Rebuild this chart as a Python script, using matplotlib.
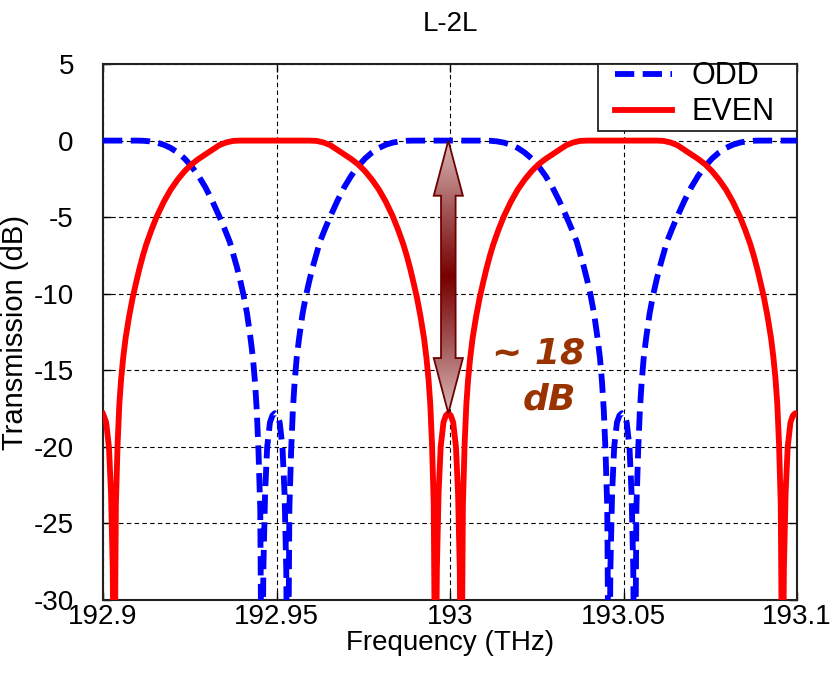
import numpy as np
import matplotlib
matplotlib.use("Agg")
import matplotlib.pyplot as plt
from matplotlib.patches import Polygon, Rectangle
from matplotlib.lines import Line2D
from matplotlib.colors import LinearSegmentedColormap

plt.rcParams['font.family'] = ['Liberation Sans', 'DejaVu Sans']
plt.rcParams['axes.unicode_minus'] = False

title = "L-2L"
xlabel = "Frequency (THz)"
ylabel = "Transmission (dB)"
xticks = [192.9, 192.95, 193.0, 193.05, 193.1]
xticklabels = ["192.9", "192.95", "193", "193.05", "193.1"]
yticks = [5, 0, -5, -10, -15, -20, -25, -30]
series_names = ["ODD", "EVEN"]

odd_freq = [
    192.9000,
    192.9095, 192.9115, 192.9135, 192.9155, 192.9175, 192.9195, 192.9215, 192.9235, 192.9255,
    192.9275, 192.9295, 192.9315, 192.9335, 192.9350, 192.9365, 192.9375, 192.9385, 192.9395,
    192.9405, 192.9415, 192.9425, 192.9432, 192.9438, 192.9443, 192.9448, 192.9453, 192.9458,
    192.9462, 192.9467, 192.9473, 192.9481, 192.9488, 192.9495, 192.9502, 192.9509, 192.9517,
    192.9523, 192.9528,
    192.9532, 192.9537, 192.9542, 192.9547, 192.9552, 192.9558, 192.9565, 192.9575, 192.9585,
    192.9595, 192.9605, 192.9615, 192.9625, 192.9640, 192.9655, 192.9675, 192.9695, 192.9715,
    192.9735, 192.9755, 192.9775, 192.9795, 192.9815, 192.9835, 192.9855, 192.9875, 192.9895,
    193.0095, 193.0115, 193.0135, 193.0155, 193.0175, 193.0195, 193.0215, 193.0235, 193.0255,
    193.0275, 193.0295, 193.0315, 193.0335, 193.0350, 193.0365, 193.0375, 193.0385, 193.0395,
    193.0405, 193.0415, 193.0425, 193.0432, 193.0438, 193.0443, 193.0448, 193.0453, 193.0458,
    193.0462, 193.0467, 193.0473, 193.0481, 193.0488, 193.0495, 193.0502, 193.0509, 193.0517,
    193.0523, 193.0528,
    193.0532, 193.0537, 193.0542, 193.0547, 193.0552, 193.0558, 193.0565, 193.0575, 193.0585,
    193.0595, 193.0605, 193.0615, 193.0625, 193.0640, 193.0655, 193.0675, 193.0695, 193.0715,
    193.0735, 193.0755, 193.0775, 193.0795, 193.0815, 193.0835, 193.0855, 193.0875, 193.0895,
    193.1000]
odd_db = [
    0,
    0, -0.01, -0.05, -0.13, -0.27, -0.48, -0.78, -1.17, -1.68,
    -2.3, -3.05, -3.95, -4.95, -5.75, -6.6, -7.4, -8.2, -9.1,
    -10.1, -11.3, -12.9, -14.2, -15.8, -17.6, -20.3, -24.0, -40,
    -28, -23, -20, -18.4, -17.95, -17.8, -17.95, -18.4, -20,
    -23, -28,
    -40, -24.0, -20.3, -17.6, -15.8, -14.2, -12.9, -11.3, -10.1,
    -9.1, -8.2, -7.4, -6.6, -5.75, -4.95, -3.95, -3.05, -2.3,
    -1.68, -1.17, -0.78, -0.48, -0.27, -0.13, -0.05, -0.01, 0,
    0, -0.01, -0.05, -0.13, -0.27, -0.48, -0.78, -1.17, -1.68,
    -2.3, -3.05, -3.95, -4.95, -5.75, -6.6, -7.4, -8.2, -9.1,
    -10.1, -11.3, -12.9, -14.2, -15.8, -17.6, -20.3, -24.0, -40,
    -28, -23, -20, -18.4, -17.95, -17.8, -17.95, -18.4, -20,
    -23, -28,
    -40, -24.0, -20.3, -17.6, -15.8, -14.2, -12.9, -11.3, -10.1,
    -9.1, -8.2, -7.4, -6.6, -5.75, -4.95, -3.95, -3.05, -2.3,
    -1.68, -1.17, -0.78, -0.48, -0.27, -0.13, -0.05, -0.01, 0,
    0]

even_freq = [
    192.9000, 192.9002, 192.9009, 192.9017, 192.9023, 192.9028,
    192.9032, 192.9037, 192.9042, 192.9047, 192.9052, 192.9058, 192.9065, 192.9075, 192.9085,
    192.9095, 192.9105, 192.9115, 192.9125, 192.9140, 192.9155, 192.9175, 192.9195, 192.9215,
    192.9235, 192.9255, 192.9275, 192.9295, 192.9315, 192.9335, 192.9355, 192.9375, 192.9395,
    192.9595, 192.9615, 192.9635, 192.9655, 192.9675, 192.9695, 192.9715, 192.9735, 192.9755,
    192.9775, 192.9795, 192.9815, 192.9835, 192.9850, 192.9865, 192.9875, 192.9885, 192.9895,
    192.9905, 192.9915, 192.9925, 192.9932, 192.9938, 192.9943, 192.9948, 192.9953, 192.9958,
    192.9962, 192.9967, 192.9973, 192.9981, 192.9988, 192.9995, 193.0002, 193.0009, 193.0017,
    193.0023, 193.0028,
    193.0032, 193.0037, 193.0042, 193.0047, 193.0052, 193.0058, 193.0065, 193.0075, 193.0085,
    193.0095, 193.0105, 193.0115, 193.0125, 193.0140, 193.0155, 193.0175, 193.0195, 193.0215,
    193.0235, 193.0255, 193.0275, 193.0295, 193.0315, 193.0335, 193.0355, 193.0375, 193.0395,
    193.0595, 193.0615, 193.0635, 193.0655, 193.0675, 193.0695, 193.0715, 193.0735, 193.0755,
    193.0775, 193.0795, 193.0815, 193.0835, 193.0850, 193.0865, 193.0875, 193.0885, 193.0895,
    193.0905, 193.0915, 193.0925, 193.0932, 193.0938, 193.0943, 193.0948, 193.0953, 193.0958,
    193.0962, 193.0967, 193.0973, 193.0981, 193.0988, 193.0995, 193.1000]
even_db = [
    -17.85, -17.95, -18.4, -20, -23, -28,
    -40, -23.8, -19.8, -17.2, -15.6, -14.2, -12.9, -11.5, -10.3,
    -9.3, -8.35, -7.5, -6.75, -5.8, -4.95, -4.0, -3.2, -2.55,
    -2.0, -1.55, -1.2, -0.9, -0.6, -0.3, -0.12, -0.02, 0,
    0, -0.02, -0.12, -0.3, -0.6, -0.9, -1.2, -1.55, -2.0,
    -2.55, -3.2, -4.0, -4.95, -5.8, -6.75, -7.5, -8.35, -9.3,
    -10.3, -11.5, -12.9, -14.2, -15.6, -17.2, -19.8, -23.8, -40,
    -28, -23, -20, -18.4, -17.95, -17.8, -17.95, -18.4, -20,
    -23, -28,
    -40, -23.8, -19.8, -17.2, -15.6, -14.2, -12.9, -11.5, -10.3,
    -9.3, -8.35, -7.5, -6.75, -5.8, -4.95, -4.0, -3.2, -2.55,
    -2.0, -1.55, -1.2, -0.9, -0.6, -0.3, -0.12, -0.02, 0,
    0, -0.02, -0.12, -0.3, -0.6, -0.9, -1.2, -1.55, -2.0,
    -2.55, -3.2, -4.0, -4.95, -5.8, -6.75, -7.5, -8.35, -9.3,
    -10.3, -11.5, -12.9, -14.2, -15.6, -17.2, -19.8, -23.8, -40,
    -28, -23, -20, -18.4, -17.95, -17.8, -17.9]

# annotation: double arrow spanning the extinction
arrow_x = 192.9995
arrow_top = 0.0
arrow_bottom = -17.8
annot_text1 = "~ 18"
annot_text2 = "dB"

BLUE = '#0000ff'
RED = '#ff0000'
LW = 4.2
DASH = (3.3, 1.45)

fig = plt.figure(figsize=(8.37, 6.79), dpi=100)
ax = fig.add_axes([0.1231, 0.1163, 0.8292, 0.7894])

ax.plot(odd_freq, odd_db, color=BLUE, lw=LW, dashes=DASH, zorder=3)
ax.plot(even_freq, even_db, color=RED, lw=LW, zorder=3)

ax.set_xlim(192.9, 193.1)
ax.set_ylim(-30, 5)
ax.set_xticks(xticks)
ax.set_xticklabels(xticklabels)
ax.set_yticks(yticks)
ax.tick_params(direction='in', length=6, width=1.0, top=True, right=True, labelsize=20)
ax.tick_params(axis='x', pad=3)
ax.tick_params(axis='y', pad=21)
ax.grid(True, color='k', linestyle=(0, (4, 3)), lw=0.8)
for s in ax.spines.values():
    s.set_linewidth(1.5)
    s.set_color('#222222')

ax.set_xlabel(xlabel, fontsize=20, labelpad=0)
ax.set_ylabel(ylabel, fontsize=21)
ax.yaxis.set_label_coords(-0.106, 0.5)
ax.set_title(title, fontsize=20, pad=24)

# legend box (MATLAB-like, square frame at the upper-right corner)
ax.add_patch(Rectangle((0.713, 0.875), 0.287, 0.125, transform=ax.transAxes,
                       facecolor='white', edgecolor='#222222', lw=1.3, zorder=10))
ax.add_line(Line2D([0.738, 0.820], [0.981, 0.981], transform=ax.transAxes, color=BLUE,
                   lw=LW, dashes=DASH, zorder=11))
ax.add_line(Line2D([0.738, 0.820], [0.914, 0.914], transform=ax.transAxes, color=RED,
                   lw=LW, zorder=11))
ax.text(0.848, 0.977, series_names[0], transform=ax.transAxes, fontsize=22,
        va='center', ha='left', zorder=12)
ax.text(0.848, 0.910, series_names[1], transform=ax.transAxes, fontsize=22,
        va='center', ha='left', zorder=12)

# gradient double arrow
hw_shaft = 0.0021
hw_head = 0.0042
head_len = 3.6
xs = arrow_x
poly_pts = [
    (xs, arrow_top),
    (xs + hw_head, arrow_top - head_len),
    (xs + hw_shaft, arrow_top - head_len),
    (xs + hw_shaft, arrow_bottom + head_len),
    (xs + hw_head, arrow_bottom + head_len),
    (xs, arrow_bottom),
    (xs - hw_head, arrow_bottom + head_len),
    (xs - hw_shaft, arrow_bottom + head_len),
    (xs - hw_shaft, arrow_top - head_len),
    (xs - hw_head, arrow_top - head_len),
]
poly = Polygon(poly_pts, closed=True, facecolor='none', edgecolor='#6e0000', lw=1.3, zorder=6)
ax.add_patch(poly)
cmap = LinearSegmentedColormap.from_list('arr', ['#780000', '#a45858', '#dcb8b8'])
grad = np.abs(np.linspace(-1, 1, 256))[:, None]
im = ax.imshow(grad, extent=[xs - hw_head, xs + hw_head, arrow_bottom, arrow_top],
               aspect='auto', cmap=cmap, origin='lower', zorder=5, interpolation='bilinear')
im.set_clip_path(poly)
ax.set_xlim(192.9, 193.1)
ax.set_ylim(-30, 5)

ax.text(193.0255, -13.9, annot_text1, color='#993300', fontsize=26, fontweight='bold',
        fontstyle='italic', family='DejaVu Sans', ha='center', va='center', zorder=7)
ax.text(193.0285, -16.9, annot_text2, color='#993300', fontsize=26, fontweight='bold',
        fontstyle='italic', family='DejaVu Sans', ha='center', va='center', zorder=7)

fig.savefig('out.png', dpi=100)
